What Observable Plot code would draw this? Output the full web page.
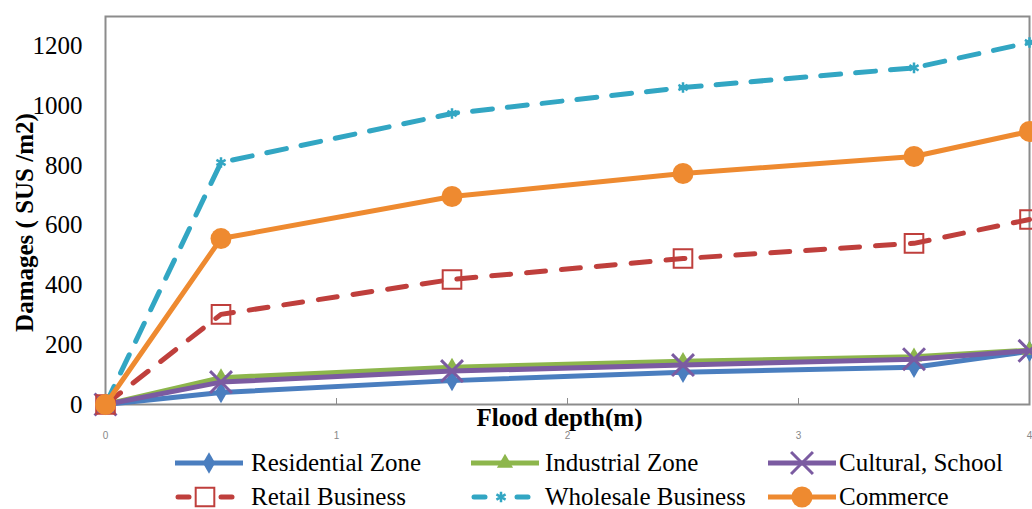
<!DOCTYPE html>
<html>
<head>
<meta charset="utf-8">
<script src="https://cdn.jsdelivr.net/npm/d3@7"></script>
<script src="https://cdn.jsdelivr.net/npm/@observablehq/plot@0.6"></script>
<style>
  html, body { margin: 0; padding: 0; background: #fff; }
  #wrap { width: 1032px; height: 509px; position: relative; overflow: hidden; }
  #legend { position: relative; width: 1032px; height: 67px; font-family: 'Liberation Serif', serif; font-size: 25px; color: #000; }
  .lg-text { position: absolute; line-height: 30px; white-space: nowrap; font-family: 'Liberation Serif', serif; }
</style>
</head>
<body>
<div id="wrap">
  <div id="chart"></div>
  <div id="legend"></div>
</div>
<script>
// ---- data ----
const depth = [0, 0.5, 1.5, 2.5, 3.5, 4];
const residential = [0, 40, 80, 108, 125, 178];
const industrial  = [0, 90, 125, 145, 160, 182];
const cultural    = [0, 75, 112, 132, 152, 180];
const retail      = [0, 302, 419, 489, 540, 620];
const wholesale   = [0, 811, 975, 1062, 1128, 1213];
const commerce    = [0, 556, 697, 774, 831, 915];
const seriesNames = ["Residential Zone", "Industrial Zone", "Cultural, School", "Retail Business", "Wholesale Business", "Commerce"];
const yTicks = [0, 200, 400, 600, 800, 1000, 1200];
const xTicks = [0, 1, 2, 3, 4];
const xTitle = "Flood depth(m)";
const yTitle = "Damages ( SUS /m2)";

const SERIF = "'Liberation Serif', serif";

// ---- styles per series ----
const styles = [
  {values: residential, color: "#4a7ebf", dash: null, symbol: "diamond", r: 6.5, fill: "#4a7ebf", stroke: "none", sw: 0},
  {values: industrial,  color: "#8db64c", dash: null, symbol: "triangle", r: 6, fill: "#8db64c", stroke: "none", sw: 0},
  {values: cultural,    color: "#7b5ba1", dash: null, symbol: "times", r: 10, fill: "none", stroke: "#7b5ba1", sw: 3},
  {values: retail,      color: "#bf3f3c", dash: "19,16", symbol: "square", r: 10.5, fill: "none", stroke: "#bf3f3c", sw: 2},
  {values: wholesale,   color: "#32a6c3", dash: "20,15", symbol: "asterisk", r: 5, fill: "none", stroke: "#32a6c3", sw: 2.5},
  {values: commerce,    color: "#ee8a30", dash: null, symbol: "circle", r: 10.5, fill: "#ee8a30", stroke: "none", sw: 0}
];

const rows = [];
seriesNames.forEach((name, i) => {
  depth.forEach((d, j) => rows.push({series: name, depth: d, value: styles[i].values[j]}));
});

const marks = [
  Plot.frame({stroke: "#8c8c8c", strokeWidth: 2}),
  Plot.axisY({ticks: yTicks, tickFormat: "d", tickSize: 0, tickPadding: 23, fontSize: 25, fontFamily: SERIF, fill: "#000", label: null}),
  Plot.axisX({ticks: [1, 2, 3], tickSize: -6, stroke: "#8c8c8c", tickFormat: () => "", label: null}),
  Plot.axisX({ticks: xTicks, tickFormat: "d", tickSize: 0, tickPadding: 27, fontSize: 10, fill: "#888", fontFamily: "'Liberation Sans', sans-serif", label: null}),
];
seriesNames.forEach((name, i) => {
  const s = styles[i];
  const data = rows.filter(d => d.series === name);
  marks.push(Plot.line(data, {x: "depth", y: "value", stroke: s.color, strokeWidth: 5, strokeDasharray: s.dash || undefined, strokeLinecap: s.dash ? "round" : "butt", strokeLinejoin: "round"}));
  marks.push(Plot.dot(data, {x: "depth", y: "value", symbol: () => s.symbol, r: s.r, fill: s.fill, stroke: s.stroke, strokeWidth: s.sw}));
});
marks.push(Plot.text([yTitle], {frameAnchor: "left", dx: -81, dy: 12, rotate: -90, fontSize: 25, fontWeight: "bold", fontFamily: SERIF, textAnchor: "middle", lineAnchor: "middle", fill: "#000"}));
marks.push(Plot.text([xTitle], {frameAnchor: "bottom", dx: -8, dy: 4, fontSize: 25, fontWeight: "bold", fontFamily: SERIF, textAnchor: "middle", lineAnchor: "top", fill: "#000"}));

const chart = Plot.plot({
  width: 1032,
  height: 442,
  marginTop: 16,
  marginBottom: 38,
  marginLeft: 105,
  marginRight: 3,
  style: {fontFamily: SERIF, background: "#fff", color: "#000"},
  x: {domain: [0, 4], type: "linear"},
  y: {domain: [0, 1300]},
  marks
});
document.getElementById("chart").appendChild(chart);

// ---- legend ----
const legend = d3.select("#legend");
const pos = [
  {sx: 175, tx: 251, y: 21},
  {sx: 471, tx: 545, y: 21},
  {sx: 768, tx: 839, y: 21},
  {sx: 175, tx: 251, y: 55},
  {sx: 471, tx: 545, y: 55},
  {sx: 768, tx: 839, y: 55}
];
const symbolMap = {diamond: d3.symbolDiamond, triangle: d3.symbolTriangle, times: d3.symbolTimes, square: d3.symbolSquare, asterisk: d3.symbolAsterisk, circle: d3.symbolCircle};
seriesNames.forEach((name, i) => {
  const s = styles[i], p = pos[i];
  const w = (i === 3 || i === 4) ? 60 : 68;
  const svg = legend.append("svg")
    .attr("width", w).attr("height", 30)
    .style("position", "absolute").style("left", p.sx + "px").style("top", (p.y - 15) + "px");
  if (s.dash) {
    svg.append("line").attr("x1", 3).attr("x2", 14).attr("y1", 15).attr("y2", 15)
      .attr("stroke", s.color).attr("stroke-width", 5).attr("stroke-linecap", "round");
    svg.append("line").attr("x1", w - 14).attr("x2", w - 3).attr("y1", 15).attr("y2", 15)
      .attr("stroke", s.color).attr("stroke-width", 5).attr("stroke-linecap", "round");
  } else {
    svg.append("line").attr("x1", 0).attr("x2", w).attr("y1", 15).attr("y2", 15)
      .attr("stroke", s.color).attr("stroke-width", 5);
  }
  svg.append("path")
    .attr("d", d3.symbol(symbolMap[s.symbol], Math.PI * s.r * s.r)())
    .attr("transform", `translate(${w / 2},15)`)
    .attr("fill", s.fill).attr("stroke", s.stroke).attr("stroke-width", s.sw);
  legend.append("div").attr("class", "lg-text")
    .style("left", p.tx + "px").style("top", (p.y - 15) + "px")
    .text(name);
});
</script>
</body>
</html>
